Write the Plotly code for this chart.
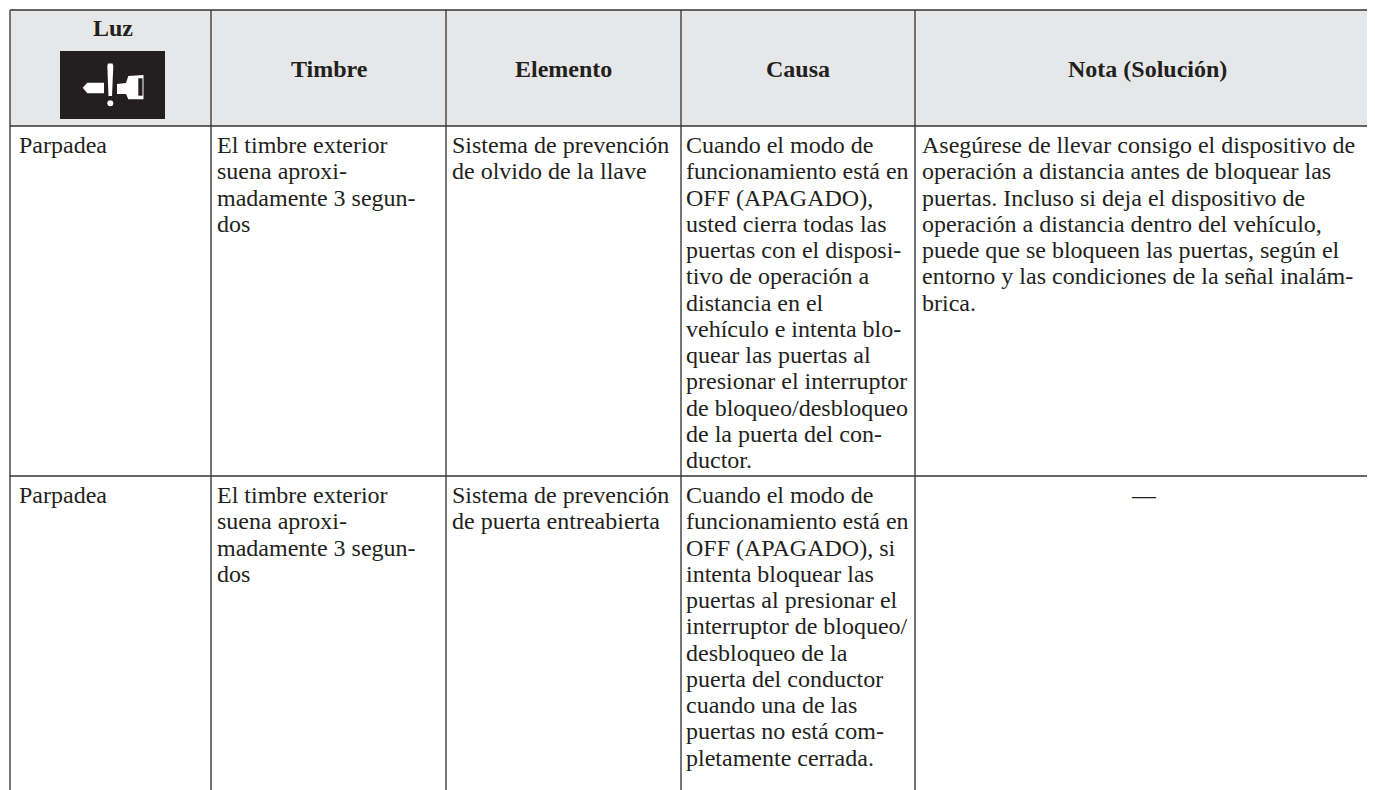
import plotly.graph_objects as go

W, H = 1375, 790
PAGE = 8  # the page body margin
GLYPH = 24
BASE = 20.2

def L(lines):
    return "<br>".join(f'<span style="font-size:{GLYPH}px">{t}</span>' for t in lines)

headers = ["Luz", "Timbre", "Elemento", "Causa", "Nota (Solución)"]
header_x = [112.5, 329, 563.5, 798, 1147.5]
header_y = [28, 69, 69, 69, 69]
rule_x = [10, 211, 446, 681, 915]
rule_y = [10, 126, 476]
text_x = [19, 217, 452, 686, 922]

luz = ["Parpadea", " "]
timbre = ["El timbre exterior", "suena aproxi-", "madamente 3 segun-", "dos"]
elemento_1 = ["Sistema de prevención", "de olvido de la llave"]
elemento_2 = ["Sistema de prevención", "de puerta entreabierta"]
causa_1 = ["Cuando el modo de", "funcionamiento está en", "OFF (APAGADO),", "usted cierra todas las",
           "puertas con el disposi-", "tivo de operación a", "distancia en el", "vehículo e intenta blo-",
           "quear las puertas al", "presionar el interruptor", "de bloqueo/desbloqueo",
           "de la puerta del con-", "ductor."]
causa_2 = ["Cuando el modo de", "funcionamiento está en", "OFF (APAGADO), si", "intenta bloquear las",
           "puertas al presionar el", "interruptor de bloqueo/", "desbloqueo de la", "puerta del conductor",
           "cuando una de las", "puertas no está com-", "pletamente cerrada.", " ", " "]
nota_1 = ["Asegúrese de llevar consigo el dispositivo de", "operación a distancia antes de bloquear las",
          "puertas. Incluso si deja el dispositivo de", "operación a distancia dentro del vehículo,",
          "puede que se bloqueen las puertas, según el", "entorno y las condiciones de la señal inalám-",
          "brica."]
nota_2 = ["\u00a0" * 35 + "—", " "]

TXT = "#231f20"
LINE = "#484848"
CLEAR = "rgba(0,0,0,0)"
def px(x): return (x - PAGE) / W
def py(y): return 1 - (y - PAGE) / H

cell_left = [x - 8 for x in text_x]
widths = [b - a for a, b in zip(cell_left, cell_left[1:] + [W + PAGE])]

def table(top, bottom, rows, head_height):
    return go.Table(
        domain=dict(x=[px(cell_left[0]), 1], y=[bottom, py(top)]),
        columnwidth=widths,
        header=dict(values=[""] * 5, height=head_height, fill_color=CLEAR, line_color=CLEAR),
        cells=dict(values=[[L(col)] for col in rows], align="left", fill_color=CLEAR, line_color=CLEAR,
                   font=dict(family="Liberation Serif", size=BASE, color=TXT)),
    )

fig = go.Figure([
    table(rule_y[0] - 2, py(rule_y[2]), [luz, timbre, elemento_1, causa_1, nota_1], rule_y[1] - rule_y[0]),
    table(rule_y[2] - 3, 0, [luz, timbre, elemento_2, causa_2, nota_2], 1),
])

shapes = [dict(type="rect", xref="paper", yref="paper", x0=px(rule_x[0]), x1=1, y0=py(rule_y[1]), y1=py(rule_y[0]),
               fillcolor="#e6e7e8", line_width=0, layer="below")]
for x in rule_x:
    shapes.append(dict(type="line", xref="paper", yref="paper", x0=px(x), x1=px(x), y0=0, y1=py(rule_y[0]),
                       line=dict(color=LINE, width=1.5), layer="below"))
for y in rule_y:
    shapes.append(dict(type="line", xref="paper", yref="paper", x0=px(rule_x[0]), x1=1, y0=py(y), y1=py(y),
                       line=dict(color="#333333", width=1.5), layer="below"))
shapes.append(dict(type="rect", xref="paper", yref="paper", x0=px(60), x1=px(165), y0=py(119), y1=py(51),
                   fillcolor="#231f20", line_width=0, layer="below"))
def poly(points, color="white"):
    d = "M" + " L".join(f"{px(x)} {py(y)}" for x, y in points) + " Z"
    shapes.append(dict(type="path", xref="paper", yref="paper", path=d, fillcolor=color, line_width=0, layer="below"))
poly([(82.7, 87.7), (87.3, 82.7), (104, 82.7), (104, 93.3), (87.3, 93.3)])
poly([(108, 63.5), (112.5, 63.5), (113.3, 66), (112, 96), (108.5, 96), (107.3, 66)])
poly([(117, 84), (126, 83), (128.3, 76), (143.5, 75), (143.5, 99.3), (128.3, 99.3), (126, 94), (117, 94)])
poly([(138.3, 78.3), (142.5, 78.3), (142.5, 95.7), (138.3, 95.7)], "#231f20")
shapes.append(dict(type="circle", xref="paper", yref="paper", x0=px(107.3), x1=px(113.3), y0=py(106.3), y1=py(100.3),
                   fillcolor="white", line_width=0, layer="below"))
fig.update_layout(shapes=shapes)

for h, x, y in zip(headers, header_x, header_y):
    fig.add_annotation(text=f"<b>{h}</b>", xref="paper", yref="paper", x=px(x), y=py(y),
                       xanchor="center", yanchor="middle", showarrow=False,
                       font=dict(family="Liberation Serif", size=24, color=TXT))

fig.update_layout(width=W, height=H, margin=dict(l=0, r=0, t=0, b=0), paper_bgcolor="white")
fig.write_html("out.html", default_width=f"{W}px", default_height=f"{H}px")
